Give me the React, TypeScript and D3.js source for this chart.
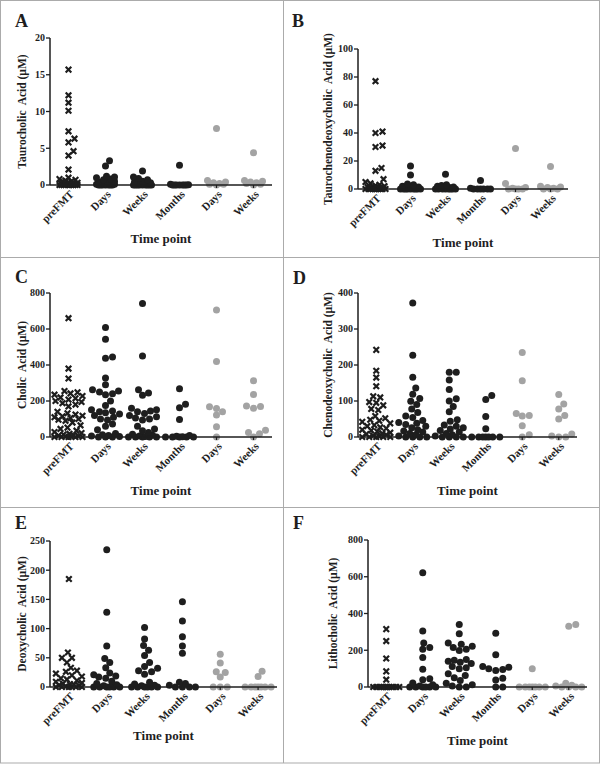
import React from "react";
import * as d3 from "d3";

const categories = ["preFMT", "Days", "Weeks", "Months", "Days", "Weeks"];

// Taurocholic acid (µM)
const taurocholic: number[][] = [
  [15.7, 12.2, 11.2, 10.1, 7.3, 6.3, 5.8, 4.6, 4.0, 2.1, 1.0, 0.8, 0.7, 0.6, 0.5, 0.5, 0.4, 0.3, 0.3, 0.2, 0.2, 0.1, 0.1, 0.1, 0, 0, 0, 0, 0, 0, 0, 0, 0, 0],
  [3.3, 2.6, 1.2, 1.1, 1.0, 0.8, 0.7, 0.5, 0.5, 0.4, 0.3, 0.3, 0.2, 0.2, 0.1, 0.1, 0.1, 0, 0, 0, 0, 0, 0, 0],
  [1.9, 1.1, 0.9, 0.7, 0.5, 0.4, 0.3, 0.2, 0.2, 0.1, 0.1, 0, 0, 0, 0, 0, 0, 0, 0, 0],
  [2.7, 0.1, 0.05, 0, 0, 0, 0, 0, 0, 0],
  [7.7, 0.6, 0.4, 0.3, 0.2, 0.1, 0.1, 0],
  [4.4, 0.6, 0.5, 0.4, 0.3, 0.2, 0.1, 0],
];

// Taurochenodeoxycholic acid (µM)
const taurochenodeoxycholic: number[][] = [
  [77, 41, 40, 31, 30, 15, 13, 7, 5, 4, 3, 2.5, 2, 1.5, 1, 1, 0.5, 0.5, 0.3, 0, 0, 0, 0, 0, 0, 0, 0, 0, 0, 0],
  [16.5, 10, 3.5, 3, 2, 2, 1.5, 1, 1, 0.5, 0.5, 0, 0, 0, 0, 0, 0, 0, 0, 0],
  [10.5, 3, 2.5, 2, 1.5, 1, 1, 0.5, 0.5, 0, 0, 0, 0, 0, 0, 0, 0],
  [6, 0.5, 0, 0, 0, 0, 0, 0],
  [29, 4, 1, 0.5, 0, 0, 0, 0],
  [16, 2, 1.5, 1, 0.5, 0, 0, 0],
];

// Cholic acid (µM)
const cholic: number[][] = [
  [660, 380, 325, 255, 248, 242, 235, 228, 220, 215, 208, 200, 195, 188, 180, 170, 140, 132, 125, 118, 115, 110, 105, 100, 96, 90, 80, 65, 52, 45, 35, 28, 22, 18, 14, 10, 8, 5, 3, 2, 0, 0, 0, 0, 0],
  [608, 543, 445, 438, 328, 290, 262, 255, 250, 240, 235, 200, 175, 152, 145, 140, 135, 128, 120, 110, 100, 95, 72, 60, 40, 20, 12, 8, 5, 3, 0, 0, 0],
  [742, 450, 262, 245, 232, 160, 152, 145, 140, 130, 120, 112, 105, 100, 95, 60, 45, 35, 25, 15, 10, 5, 3, 0, 0, 0, 0, 0],
  [268, 182, 162, 97, 8, 4, 2, 0, 0, 0, 0, 0],
  [705, 420, 168, 158, 140, 122, 57, 0],
  [312, 236, 172, 170, 160, 37, 25, 18, 0],
];

// Chenodeoxycholic acid (µM)
const chenodeoxycholic: number[][] = [
  [242, 184, 165, 141, 113, 110, 97, 95, 88, 78, 75, 58, 52, 48, 45, 42, 38, 33, 30, 27, 24, 20, 18, 15, 12, 10, 8, 6, 4, 2, 0, 0, 0, 0, 0],
  [372, 227, 166, 136, 119, 107, 99, 90, 78, 68, 58, 54, 46, 40, 38, 35, 30, 26, 20, 17, 14, 10, 6, 3, 0, 0, 0, 0],
  [180, 180, 158, 132, 106, 100, 85, 70, 48, 44, 33, 30, 26, 22, 18, 14, 10, 6, 3, 0, 0, 0, 0],
  [115, 104, 57, 23, 0, 0, 0, 0, 0, 0, 0],
  [235, 156, 65, 60, 58, 31, 6, 0],
  [118, 92, 78, 60, 50, 8, 3, 0, 0],
];

// Deoxycholic acid (µM)
const deoxycholic: number[][] = [
  [185, 59, 50, 50, 42, 33, 28, 26, 23, 20, 18, 15, 13, 11, 9, 7, 6, 5, 4, 3, 2, 1, 0, 0, 0, 0, 0, 0],
  [235, 128, 70, 49, 42, 33, 24, 21, 19, 17, 15, 10, 6, 4, 2, 0, 0, 0, 0, 0, 0],
  [102, 82, 71, 63, 54, 42, 35, 32, 28, 26, 22, 8, 5, 3, 2, 0, 0, 0, 0, 0, 0],
  [146, 113, 86, 70, 58, 8, 6, 3, 0, 0, 0, 0],
  [56, 41, 26, 25, 17, 0, 0, 0],
  [27, 18, 0, 0, 0, 0, 0, 0, 0],
];

// Lithocholic acid (µM)
const lithocholic: number[][] = [
  [315, 250, 155, 85, 40, 0, 0, 0, 0, 0, 0, 0, 0, 0, 0, 0, 0, 0],
  [622, 305, 240, 215, 205, 160, 97, 45, 40, 22, 12, 5, 0, 0, 0, 0, 0, 0],
  [340, 290, 240, 232, 222, 215, 205, 198, 150, 145, 140, 135, 128, 112, 105, 100, 72, 62, 50, 35, 20, 12, 5, 0, 0],
  [293, 175, 112, 108, 100, 95, 90, 48, 38, 0, 0],
  [100, 0, 0, 0, 0, 0, 0, 0],
  [340, 330, 20, 10, 5, 0, 0, 0, 0],
];

const yTitles = [
  "Taurocholic  Acid (\u00b5M)",
  "Taurochenodeoxycholic  Acid (\u00b5M)",
  "Cholic  Acid (\u00b5M)",
  "Chenodeoxycholic  Acid (\u00b5M)",
  "Deoxycholic  Acid (\u00b5M)",
  "Lithocholic  Acid (\u00b5M)",
];
const letters = ["A", "B", "C", "D", "E", "F"];
const yMax = [20, 100, 800, 400, 250, 800];
const yTicks = [
  [0, 5, 10, 15, 20],
  [0, 20, 40, 60, 80, 100],
  [0, 200, 400, 600, 800],
  [0, 100, 200, 300, 400],
  [0, 50, 100, 150, 200, 250],
  [0, 200, 400, 600, 800],
];
const datasets = [taurocholic, taurochenodeoxycholic, cholic, chenodeoxycholic, deoxycholic, lithocholic];

// layout (positions only)
const layout = [
  { x0: 50, x1: 272, yTop: 38, yZero: 185, lx: 15, ly: 27, tx: 22, xt: 243, maxHalf: 9 },
  { x0: 358, x1: 568, yTop: 49, yZero: 189, lx: 292, ly: 27, tx: 328, xt: 247, maxHalf: 10 },
  { x0: 50, x1: 272, yTop: 293, yZero: 437, lx: 15, ly: 283, tx: 22, xt: 495, maxHalf: 14 },
  { x0: 358, x1: 577, yTop: 293, yZero: 437, lx: 293, ly: 284, tx: 328, xt: 495, maxHalf: 14 },
  { x0: 50, x1: 277, yTop: 541, yZero: 687, lx: 15, ly: 529, tx: 22, xt: 740, maxHalf: 13 },
  { x0: 368, x1: 587, yTop: 540, yZero: 687, lx: 293, ly: 529, tx: 333, xt: 745, maxHalf: 13 },
];

const R = 3.5;
const DARK = "#1e1e1e";
const GREY = "#a3a3a3";
const FONT = "'Liberation Serif', 'Times New Roman', serif";

function swarm(values: number[], y: (v: number) => number, maxHalf: number) {
  const pts = values.map((v) => ({ v, y: y(v), x: 0 })).sort((a, b) => a.v - b.v);
  const placed: { x: number; y: number }[] = [];
  for (const p of pts) {
    let best = 0;
    let bestD = -1;
    for (let k = 0; k <= 2 * maxHalf; k++) {
      const off = k === 0 ? 0 : k % 2 ? (k + 1) / 2 : -k / 2;
      let md = Infinity;
      for (const q of placed) {
        const dy = q.y - p.y;
        if (Math.abs(dy) >= 2 * R) continue;
        md = Math.min(md, Math.hypot(off - q.x, dy));
      }
      if (md >= 2 * R * 0.92) {
        best = off;
        bestD = md;
        break;
      }
      if (md > bestD + 0.01) {
        bestD = md;
        best = off;
      }
    }
    p.x = best;
    placed.push({ x: best, y: p.y });
  }
  return pts;
}

function Panel({ i }: { i: number }) {
  const L = layout[i];
  const data = datasets[i];
  const y = d3.scaleLinear().domain([0, yMax[i]]).range([L.yZero, L.yTop]);
  const x = d3
    .scaleBand<number>()
    .domain(d3.range(categories.length))
    .range([L.x0, L.x1]);
  const cx = (j: number) => (x(j) as number) + x.bandwidth() / 2;
  return (
    <g>
      <text x={L.lx} y={L.ly} fontFamily={FONT} fontWeight="bold" fontSize={18} fill={DARK}>
        {letters[i]}
      </text>
      {data.map((vals, j) => {
        const pts = swarm(vals, y, L.maxHalf);
        const color = j >= 4 ? GREY : DARK;
        return (
          <g key={j}>
            {pts.map((p, k) =>
              j === 0 ? (
                <path
                  key={k}
                  d={`M${cx(j) + p.x - 2.8},${p.y - 2.8}L${cx(j) + p.x + 2.8},${p.y + 2.8}M${cx(j) + p.x - 2.8},${p.y + 2.8}L${cx(j) + p.x + 2.8},${p.y - 2.8}`}
                  stroke={color}
                  strokeWidth={2.2}
                  fill="none"
                />
              ) : (
                <circle key={k} cx={cx(j) + p.x} cy={p.y} r={R} fill={color} />
              )
            )}
          </g>
        );
      })}
      <line x1={L.x0} x2={L.x0} y1={L.yTop} y2={L.yZero} stroke={DARK} strokeWidth={1.5} />
      {yTicks[i].map((t) => (
        <g key={t}>
          <line x1={L.x0 - 4} x2={L.x0} y1={y(t)} y2={y(t)} stroke={DARK} strokeWidth={1.3} />
          <text
            x={L.x0 - 5}
            y={y(t)}
            dy="0.33em"
            textAnchor="end"
            fontFamily={FONT}
            fontWeight="bold"
            fontSize={10}
            fill={DARK}
          >
            {t}
          </text>
        </g>
      ))}
      <line x1={L.x0} x2={L.x1} y1={L.yZero} y2={L.yZero} stroke={DARK} strokeWidth={1.5} />
      {categories.map((c, j) => (
        <g key={j}>
          <line x1={cx(j)} x2={cx(j)} y1={L.yZero} y2={L.yZero + 3} stroke={DARK} strokeWidth={1.2} />
          <text
            transform={`translate(${cx(j) + 6},${L.yZero + 10}) rotate(-45)`}
            textAnchor="end"
            fontFamily={FONT}
            fontWeight="bold"
            fontSize={11}
            fill={DARK}
          >
            {c}
          </text>
        </g>
      ))}
      <text
        x={(L.x0 + L.x1) / 2}
        y={L.xt}
        textAnchor="middle"
        fontFamily={FONT}
        fontWeight="bold"
        fontSize={13}
        fill={DARK}
      >
        Time point
      </text>
      <text
        transform={`translate(${L.tx},${(L.yTop + L.yZero) / 2}) rotate(-90)`}
        dy="0.35em"
        textAnchor="middle"
        fontFamily={FONT}
        fontWeight="bold"
        fontSize={11.5}
        fill={DARK}
        style={{ whiteSpace: "pre" }}
      >
        {yTitles[i]}
      </text>
    </g>
  );
}

export default function App() {
  const W = 601;
  const H = 764;
  return (
    <svg
      width={W}
      height={H}
      style={{ position: "absolute", left: 0, top: 0, background: "#fff" }}
    >
      <rect x={0} y={0} width={W} height={H} fill="#fff" />
      <g stroke="#ababab" strokeWidth={1} fill="none">
        <rect x={0.5} y={0.5} width={599} height={762.5} />
        <line x1={283.5} x2={283.5} y1={0.5} y2={763} />
        <line x1={0.5} x2={599.5} y1={257.5} y2={257.5} />
        <line x1={0.5} x2={599.5} y1={507.5} y2={507.5} />
      </g>
      {layout.map((_, i) => (
        <Panel key={i} i={i} />
      ))}
    </svg>
  );
}
